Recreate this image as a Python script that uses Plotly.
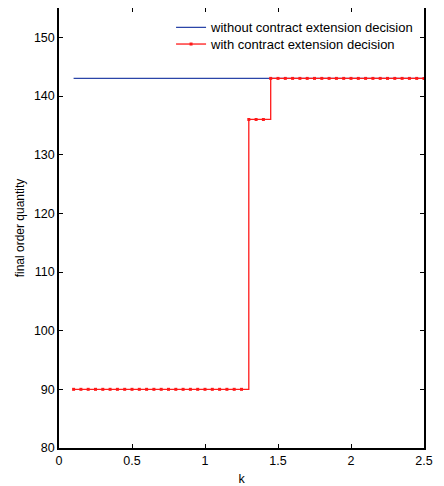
import plotly.graph_objects as go

k = [round(0.1 + 0.05 * i, 2) for i in range(49)]
without_ext = [143] * len(k)
with_ext = [90 if x < 1.3 else (136 if x < 1.45 else 143) for x in k]

x_ticks = [0, 0.5, 1, 1.5, 2, 2.5]
x_tick_labels = ["0", "0.5", "1", "1.5", "2", "2.5"]
y_ticks = [80, 90, 100, 110, 120, 130, 140, 150]

FONT = "Liberation Sans, Arial"

fig = go.Figure()
fig.add_trace(go.Scatter(
    x=k, y=without_ext, mode="lines", name="without contract extension decision",
    line=dict(color="#2b45a8", width=1.2), legend="legend",
))
fig.add_trace(go.Scatter(
    x=k, y=with_ext, mode="lines+markers", name="with contract extension decision",
    line=dict(color="#ff1a1a", width=1.3, shape="hv"),
    marker=dict(color="#ff1a1a", size=3, symbol="square"), legend="legend2",
))

axis_common = dict(
    showgrid=False, zeroline=False, showline=True, linecolor="black", linewidth=1.5,
    mirror="ticks", ticks="inside", ticklen=4, tickcolor="black", tickwidth=1,
    tickfont=dict(family=FONT, size=12.5, color="black"), automargin=False,
)
fig.update_xaxes(range=[0, 2.5], tickvals=x_ticks, ticktext=x_tick_labels,
                 title=dict(text="k", standoff=7,
                            font=dict(family=FONT, size=12.5, color="black")),
                 **axis_common)
fig.update_yaxes(range=[80, 155], tickvals=y_ticks,
                 title=dict(text="final order quantity", standoff=7,
                            font=dict(family=FONT, size=12, color="black")),
                 **axis_common)

leg_common = dict(xanchor="left", yanchor="middle", bgcolor="rgba(0,0,0,0)",
                  borderwidth=0, font=dict(family=FONT, size=13, color="black"),
                  itemwidth=30)
fig.update_layout(
    width=436, height=478,
    margin=dict(l=51, r=20, t=0, b=38, autoexpand=False),
    plot_bgcolor="white", paper_bgcolor="white",
    legend=dict(x=0.307, y=0.956, **leg_common),
    legend2=dict(x=0.307, y=0.918, **leg_common),
    showlegend=True,
)

fig.write_html("out.html")
